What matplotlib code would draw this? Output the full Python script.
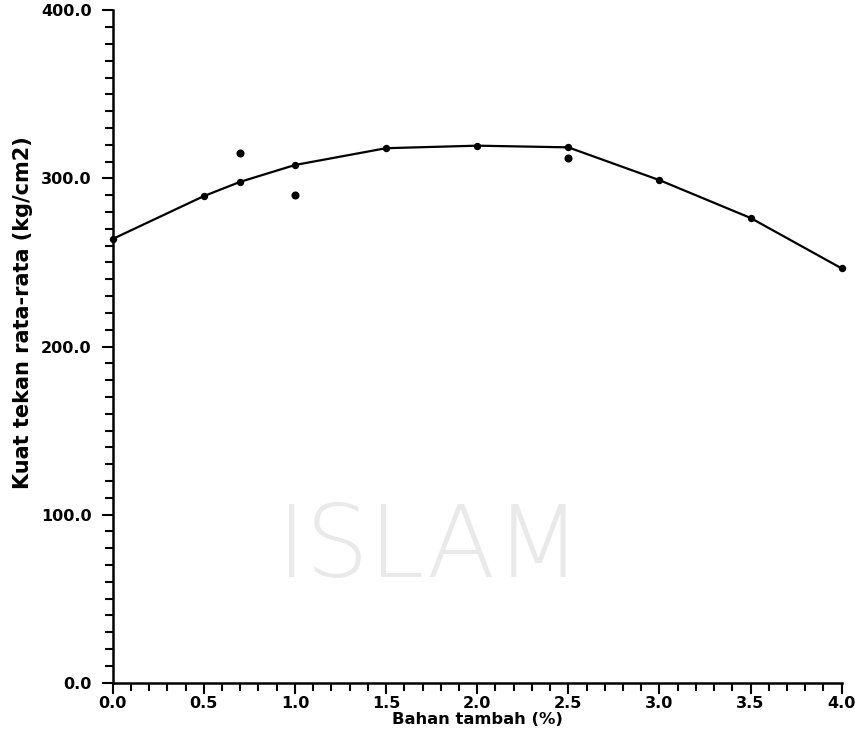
import matplotlib
matplotlib.use("Agg")
import matplotlib.pyplot as plt
from matplotlib.ticker import MultipleLocator, FormatStrFormatter
from matplotlib.font_manager import FontProperties

# DATA
bahan = [0.0, 0.5, 0.7, 1.0, 1.5, 2.0, 2.5, 3.0, 3.5, 4.0]
kuat_rata = [264, 289.5, 298, 308, 318, 319.5, 318.5, 299, 276.5, 246.5]
# separate test points that lie off the curve
bahan_lain = [0.7, 1.0, 2.5]
kuat_lain = [315, 290, 312]

x_label = "Bahan tambah (%)"
y_label = "Kuat tekan rata-rata (kg/cm2)"
tick_font = {"family": "DejaVu Sans", "weight": "bold", "size": 11.5}

fig = plt.figure(figsize=(8.55, 7.4), dpi=100)
ax = fig.add_axes([0.1318, 0.0774, 0.8526, 0.9086])

# faint watermark behind the chart
fig.text(0.503, 0.258, "ISLAM", fontsize=72, color="#e9e9e9", ha="center",
         va="center", family="DejaVu Sans", weight="light", zorder=0)

ax.plot(bahan, kuat_rata, color="black", lw=1.6, marker="o", ms=4.3,
        clip_on=False, zorder=3)
ax.plot(bahan_lain, kuat_lain, ls="none", color="black", marker="o", ms=4.8,
        clip_on=False, zorder=3)

ax.set_xlim(0, 4.0)
ax.set_ylim(0, 400)
ax.patch.set_alpha(0)

ax.xaxis.set_major_locator(MultipleLocator(0.5))
ax.xaxis.set_minor_locator(MultipleLocator(0.1))
ax.yaxis.set_major_locator(MultipleLocator(100))
ax.yaxis.set_minor_locator(MultipleLocator(10))
ax.xaxis.set_major_formatter(FormatStrFormatter("%.1f"))
ax.yaxis.set_major_formatter(FormatStrFormatter("%.1f"))

for s in ["top", "right"]:
    ax.spines[s].set_visible(False)
for s in ["left", "bottom"]:
    ax.spines[s].set_linewidth(1.8)

ax.tick_params(which="major", direction="out", length=8, width=1.5)
ax.tick_params(which="minor", direction="out", length=5.5, width=1.5)
ax.tick_params(axis="x", which="major", pad=1.5)
ax.tick_params(axis="y", which="major", pad=7)
for lab in ax.get_xticklabels() + ax.get_yticklabels():
    lab.set_fontproperties(FontProperties(**tick_font))

ax.set_xlabel(x_label, family="DejaVu Sans", weight="bold", size=11.8)
ax.set_ylabel(y_label, family="DejaVu Sans", weight="semibold", size=15)
ax.xaxis.set_label_coords(0.5, -0.043)
ax.yaxis.set_label_coords(-0.11, 0.55)

fig.savefig("out.png", dpi=100)
